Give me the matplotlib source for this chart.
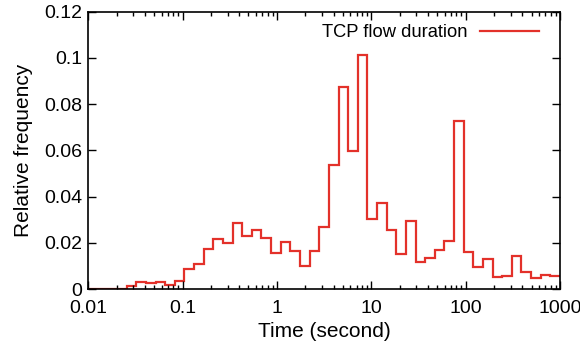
import matplotlib
matplotlib.use("Agg")
import matplotlib.pyplot as plt
import numpy as np
from matplotlib.ticker import FixedLocator, FuncFormatter, LogLocator, NullFormatter

# histogram of TCP flow durations, 49 log bins from 0.01 s to 1000 s
bin_edges = np.logspace(-2, 3, 50)
rel_freq = [0, 0, 0, 0, 0.0014, 0.0030, 0.0026, 0.0033, 0.0019, 0.0036,
            0.0089, 0.0107, 0.0174, 0.0217, 0.0201, 0.0286, 0.0231, 0.0256, 0.0221, 0.0157,
            0.0203, 0.0166, 0.0100, 0.0166, 0.0271, 0.0537, 0.0873, 0.0599, 0.1014, 0.0304,
            0.0371, 0.0254, 0.0151, 0.0293, 0.0119, 0.0137, 0.0169, 0.0207, 0.0726, 0.0161,
            0.0097, 0.0131, 0.0054, 0.0059, 0.0143, 0.0076, 0.0050, 0.0061, 0.0057]
x_ticks = [0.01, 0.1, 1, 10, 100, 1000]
y_ticks = [0, 0.02, 0.04, 0.06, 0.08, 0.1, 0.12]

plt.rcParams['font.family'] = ['Liberation Sans', 'DejaVu Sans']

fig = plt.figure(figsize=(5.8, 3.51), dpi=100)
ax = fig.add_axes([0.152, 0.176, 0.8135, 0.791])

ax.stairs(rel_freq, bin_edges, baseline=None, color='#e3312a', linewidth=1.6,
          label='TCP flow duration')

ax.set_xscale('log')
ax.set_xlim(0.01, 1000)
ax.set_ylim(0, 0.12)
ax.xaxis.set_major_locator(FixedLocator(x_ticks))
ax.xaxis.set_major_formatter(FuncFormatter(lambda v, p: '%g' % v))
ax.xaxis.set_minor_locator(LogLocator(base=10, subs=np.arange(2, 10)))
ax.xaxis.set_minor_formatter(NullFormatter())
ax.set_yticks(y_ticks)
ax.yaxis.set_major_formatter(FuncFormatter(lambda v, p: '%g' % v))

ax.tick_params(which='both', direction='in', top=True, right=True, labelsize=14)
ax.tick_params(axis='x', pad=8)
ax.tick_params(axis='y', pad=4.5)
ax.tick_params(which='major', length=6, width=1)
ax.tick_params(which='minor', length=3, width=1)
for s in ax.spines.values():
    s.set_linewidth(1.2)

ax.set_xlabel('Time (second)', fontsize=15, labelpad=3)
ax.set_ylabel('Relative frequency', fontsize=15, labelpad=8)

ax.legend(loc='upper right', bbox_to_anchor=(0.983, 1.0), frameon=False,
          markerfirst=False, fontsize=13.2, handlelength=3.2,
          borderaxespad=0.3, handletextpad=0.7)

fig.savefig('out.png', dpi=100)
